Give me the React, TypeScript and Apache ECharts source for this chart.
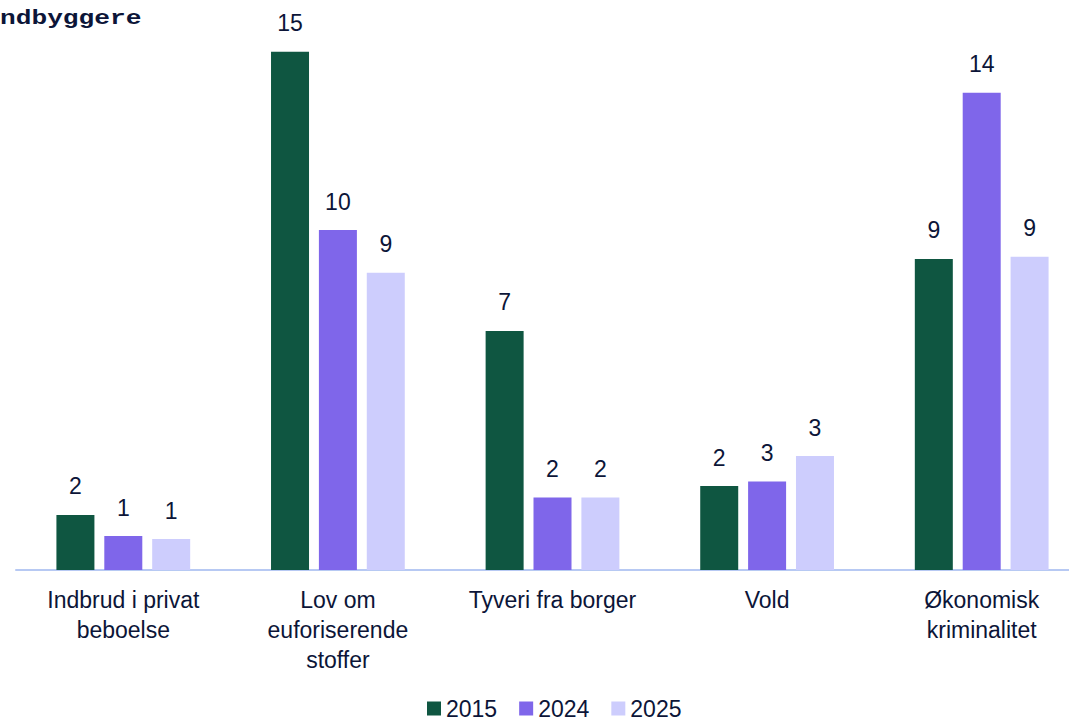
import React, { useEffect, useRef } from "react";
import * as echarts from "echarts";

const categories = [
  "Indbrud i privat\nbeboelse",
  "Lov om\neuforiserende\nstoffer",
  "Tyveri fra borger",
  "Vold",
  "Økonomisk\nkriminalitet",
];
const seriesNames = ["2015", "2024", "2025"];
const values2015 = [1.62, 15.24, 7.03, 2.47, 9.15];
const values2024 = [1.0, 10.0, 2.13, 2.6, 14.04];
const values2025 = [0.91, 8.74, 2.13, 3.35, 9.21];
const titleText = "ndbyggere";

const colors = ["#0f5641", "#7f66ea", "#cdcdfd"];
const textColor = "#0c1538";
const font = "Arial, 'Liberation Sans', sans-serif";

export default function App() {
  const ref = useRef<HTMLDivElement>(null);
  useEffect(() => {
    if (!ref.current) return;
    const chart = echarts.init(ref.current, null, { renderer: "svg" });
    const data = [values2015, values2024, values2025];
    chart.setOption({
      animation: false,
      backgroundColor: "#ffffff",
      textStyle: { fontFamily: font, color: textColor },
      grid: { left: 16, right: 0, top: 26, bottom: 150, containLabel: false },
      legend: {
        data: seriesNames,
        left: 427,
        top: 697,
        padding: 0,
        itemWidth: 14,
        itemHeight: 14,
        itemGap: 22,
        icon: "rect",
        textStyle: { fontSize: 23, lineHeight: 20, color: textColor, fontFamily: font },
      },
      xAxis: {
        type: "category",
        data: categories,
        axisLine: { show: true, lineStyle: { color: "#b7c9f3", width: 2 } },
        axisTick: { show: false },
        axisLabel: {
          interval: 0,
          fontSize: 23,
          lineHeight: 30,
          margin: 15,
          color: textColor,
          fontFamily: font,
        },
      },
      yAxis: {
        type: "value",
        min: 0,
        max: 16,
        show: false,
        splitLine: { show: false },
      },
      series: seriesNames.map((name, i) => ({
        name,
        type: "bar",
        data: data[i],
        barWidth: 38,
        barGap: "26%",
        itemStyle: { color: colors[i] },
        label: {
          show: true,
          position: "top",
          distance: 17,
          fontSize: 23,
          color: textColor,
          fontFamily: font,
          formatter: (p: any) => String(Math.round(p.value)),
        },
      })),
      graphic: [
        {
          type: "text",
          x: 0,
          y: 18.5,
          scaleX: 1.31,
          style: {
            text: titleText,
            fontFamily: "'Liberation Mono', 'Courier New', monospace",
            fontWeight: "bold",
            fontSize: 20,
            fill: textColor,
            verticalAlign: "middle",
            align: "left",
          },
        },
      ],
    });
    return () => chart.dispose();
  }, []);
  return (
    <div
      style={{
        position: "absolute",
        left: 0,
        top: 0,
        width: 1069,
        height: 720,
        overflow: "hidden",
      }}
    >
      <div ref={ref} style={{ width: 1089, height: 720 }} />
    </div>
  );
}
